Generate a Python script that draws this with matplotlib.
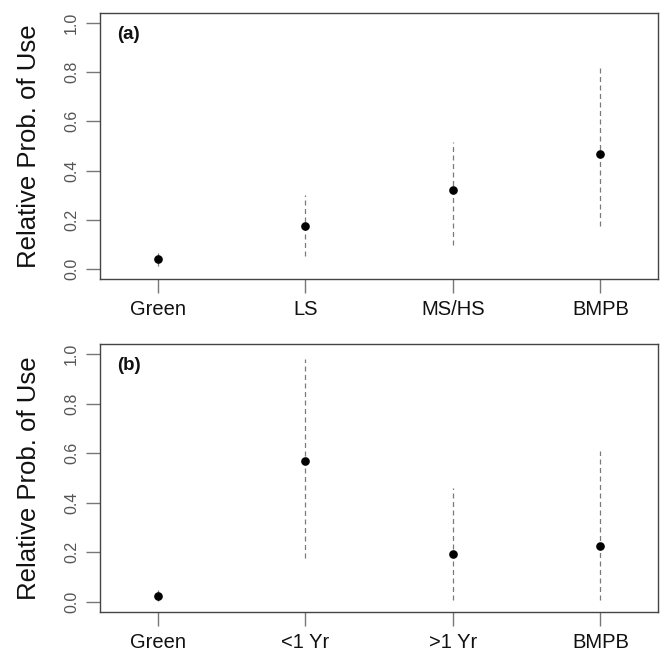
import matplotlib
matplotlib.use("Agg")
import matplotlib.pyplot as plt
from matplotlib import font_manager

fams = [f.name for f in font_manager.fontManager.ttflist]
narrow = "Liberation Sans Narrow" if "Liberation Sans Narrow" in fams else "Liberation Sans"

# Panel (a)
cats_a = ["Green", "LS", "MS/HS", "BMPB"]
est_a = [0.043, 0.173, 0.321, 0.466]
lo_a = [0.013, 0.054, 0.098, 0.174]
hi_a = [0.067, 0.302, 0.517, 0.819]

# Panel (b)
cats_b = ["Green", "<1 Yr", ">1 Yr", "BMPB"]
est_b = [0.022, 0.567, 0.192, 0.224]
lo_b = [0.002, 0.177, 0.007, 0.007]
hi_b = [0.047, 0.980, 0.460, 0.610]

yticks = [0.0, 0.2, 0.4, 0.6, 0.8, 1.0]
ytick_labels = ["0.0", "0.2", "0.4", "0.6", "0.8", "1.0"]
panel_labels = ["(a)", "(b)"]

W, H = 664, 651
fig = plt.figure(figsize=(W / 100, H / 100), dpi=100)

boxes = [
    (100 / W, 1 - 279 / H, 558 / W, (279 - 12.7) / H),
    (100 / W, 1 - 611.7 / H, 558 / W, (611.7 - 344.3) / H),
]

frame_col = "#444444"
tick_col = "#777777"

for box, cats, est, lo, hi, lab in [
    (boxes[0], cats_a, est_a, lo_a, hi_a, panel_labels[0]),
    (boxes[1], cats_b, est_b, lo_b, hi_b, panel_labels[1]),
]:
    ax = fig.add_axes(box)
    x = list(range(1, len(cats) + 1))
    ax.vlines(x, lo, hi, colors="#7a7a7a", linewidth=0.9,
              linestyles=(0, (4.0, 2.8)), zorder=2)
    ax.plot(x, est, "o", color="black", markersize=5.2, zorder=3)
    ax.set_xlim(0.61, 4.39)
    ax.set_ylim(-0.04, 1.04)
    for s in ax.spines.values():
        s.set_color(frame_col)
        s.set_linewidth(1.0)
    ax.set_xticks(x)
    ax.set_xticklabels(cats, fontsize=14.5, family=narrow, color="#111111")
    ax.set_yticks(yticks)
    ax.set_yticklabels(ytick_labels, rotation=90, va="center",
                       fontsize=11.5, family="Liberation Sans", color="#555555")
    ax.tick_params(axis="both", length=10, width=1.0, color=tick_col)
    ax.tick_params(axis="x", pad=5)
    ax.tick_params(axis="y", pad=5)
    ax.set_ylabel("Relative Prob. of Use", fontsize=18.5,
                  family="Liberation Sans", color="#111111", labelpad=17)
    ax.text(0.725, 0.953, lab, fontsize=13.5, fontweight="bold", family=narrow,
            va="center", ha="left", color="#111111")

fig.savefig("out.png", dpi=100)
